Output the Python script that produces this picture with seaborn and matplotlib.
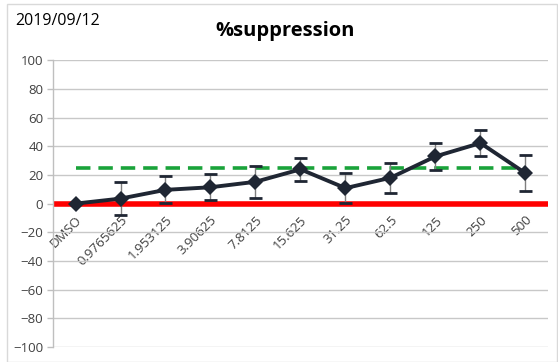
import matplotlib
matplotlib.use("Agg")
import matplotlib.pyplot as plt
import seaborn as sns
import pandas as pd

# Dose series (concentration labels) and measured % suppression with SD
doses = ["DMSO", "0.9765625", "1.953125", "3.90625", "7.8125", "15.625",
         "31.25", "62.5", "125", "250", "500"]
suppression = [0.0, 3.5, 9.6, 11.4, 15.2, 23.9, 10.8, 18.0, 32.9, 42.2, 21.2]
sd = [0.0, 11.5, 9.5, 9.0, 11.2, 7.8, 10.6, 10.6, 9.4, 9.3, 12.4]
threshold = 25
date_label = "2019/09/12"
title = "%suppression"

df = pd.DataFrame({"dose": doses, "suppression": suppression, "sd": sd})
df["pos"] = range(len(df))

sns.set_style("white")
plt.rcParams["font.family"] = ["Open Sans", "DejaVu Sans"]

fig = plt.figure(figsize=(5.58, 3.62), dpi=100)
ax = fig.add_axes([0.095, 0.041, 0.887, 0.793])

# zero baseline and threshold
ax.axhline(0, color="#ff0000", linewidth=4, zorder=2)
ax.plot([df["pos"].iloc[0], df["pos"].iloc[-1]], [threshold, threshold],
        color="#1aa33a", linewidth=2.6, linestyle=(0, (4, 2.2)), zorder=3)

# error bars: thin grey stems with dark caps
ax.errorbar(df["pos"], df["suppression"], yerr=df["sd"], fmt="none",
            ecolor="#7f7f7f", elinewidth=1.0, capsize=0, zorder=4)
for x, y, e in zip(df["pos"], df["suppression"], df["sd"]):
    if e > 0:
        for yy in (y + e, y - e):
            ax.plot([x - 0.15, x + 0.15], [yy, yy], color="#1f2633", lw=2,
                    zorder=4, solid_capstyle="butt")

sns.lineplot(data=df, x="pos", y="suppression", ax=ax, color="#1f2633",
             linewidth=2.8, marker="D", markersize=8, markeredgewidth=0,
             zorder=5)

# x axis sits on the zero line
ax.spines["bottom"].set_position(("data", 0))
ax.spines["bottom"].set_visible(False)
for s in ["top", "right"]:
    ax.spines[s].set_visible(False)
ax.spines["left"].set_color("#bfbfbf")
ax.spines["left"].set_linewidth(1)

ax.set_ylim(-100, 100)
ax.set_xlim(-0.5, len(doses) - 0.5)
ax.set_yticks(range(-100, 101, 20))
ax.yaxis.grid(True, color="#c8c8c8", linewidth=1.0)
ax.set_axisbelow(True)

ax.set_xticks(df["pos"])
ax.set_xticklabels(doses, fontsize=9.5, color="#404040")
for lab in ax.get_xticklabels():
    lab.set_rotation(45)
    lab.set_ha("right")
    lab.set_va("top")
    lab.set_rotation_mode("anchor")
ax.tick_params(axis="x", length=0, pad=7)
ax.tick_params(axis="y", length=4, width=1, color="#bfbfbf",
               labelsize=9.5, labelcolor="#404040", pad=3, left=True)
ax.set_xlabel("")
ax.set_ylabel("")

fig.text(0.511, 0.915, title, ha="center", va="center", fontsize=14.5,
         fontweight="bold", color="#000000")
fig.text(0.027, 0.943, date_label, ha="left", va="center", fontsize=11.5,
         color="#000000")

# chart frame
frame = plt.Rectangle((0.013, 0.0), 0.985, 0.99, transform=fig.transFigure,
                      fill=False, edgecolor="#d9d9d9", linewidth=1)
fig.patches.append(frame)

fig.savefig("out.png", dpi=100, facecolor="white")
